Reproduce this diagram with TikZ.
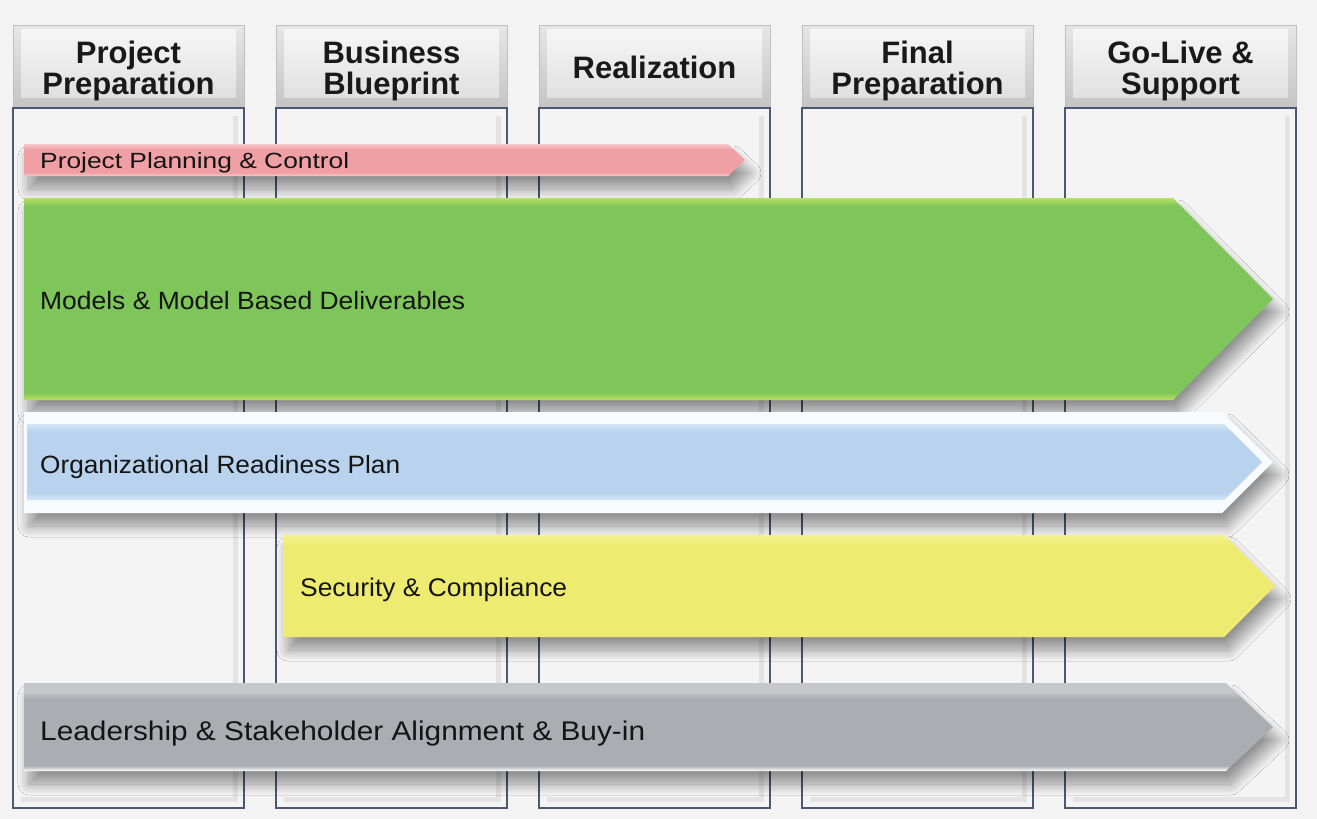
\documentclass[tikz,border=0pt]{standalone}
\usepackage{fontspec}
\setmainfont{Liberation Sans}
\usepackage{graphicx}
\usetikzlibrary{shadows.blur}
\definecolor{bgc}{HTML}{F3F3F3}
\definecolor{bodyc}{HTML}{F4F4F4}
\definecolor{colb}{HTML}{4A5870}
\definecolor{hTop}{HTML}{F6F6F6}
\definecolor{hBot}{HTML}{E0E0E0}
\definecolor{hOutTop}{HTML}{E6E6E6}
\definecolor{hOutBot}{HTML}{C4C4C4}
\definecolor{pE}{HTML}{F7C8CA}
\definecolor{pM}{HTML}{F0A0A4}
\definecolor{gE}{HTML}{B9DF60}
\definecolor{gM}{HTML}{7EC65A}
\definecolor{bW}{HTML}{F8FBFD}
\definecolor{bE}{HTML}{D4E6F6}
\definecolor{bM}{HTML}{B9D3EE}
\definecolor{yE}{HTML}{F4F290}
\definecolor{yM}{HTML}{EEEC70}
\definecolor{grM}{HTML}{ABADB2}
\definecolor{grT}{HTML}{C6C7CA}
\pgfdeclareverticalshading{pinksh}{100bp}{color(0bp)=(pE); color(25bp)=(pE); color(31bp)=(pM); color(66bp)=(pM); color(75bp)=(pE); color(100bp)=(pE)}
\pgfdeclareverticalshading{greensh}{100bp}{color(0bp)=(gE); color(25bp)=(gE); color(27bp)=(gM); color(73bp)=(gM); color(75bp)=(gE); color(100bp)=(gE)}
\pgfdeclareverticalshading{bluesh}{100bp}{color(0bp)=(bE); color(25bp)=(bE); color(30bp)=(bM); color(70bp)=(bM); color(75bp)=(bE); color(100bp)=(bE)}
\pgfdeclareverticalshading{yellowsh}{100bp}{color(0bp)=(yM); color(25bp)=(yM); color(70bp)=(yM); color(75bp)=(yE); color(100bp)=(yE)}
\pgfdeclareverticalshading{graysh}{100bp}{color(0bp)=(white); color(25bp)=(white); color(28bp)=(grM); color(66bp)=(grM); color(70bp)=(grT); color(75bp)=(grT); color(100bp)=(grT)}
\newcommand\fw[2]{\resizebox{#1pt}{\height}{#2}}
\tikzset{
  hdr/.style={align=center, inner sep=0pt, font=\fontsize{31}{31}\selectfont\bfseries, text=black!90},
  lbl/.style={anchor=base west, inner sep=0pt, text=black!92},
  shd/.style={blur shadow={shadow xshift=5pt, shadow yshift=-13pt, shadow blur radius=11pt, shadow blur steps=14, shadow opacity=40}}
}
\begin{document}
\begin{tikzpicture}[x=1pt,y=-1pt]
\useasboundingbox (0,0) rectangle (1317,819);
\fill[bgc] (0,0) rectangle (1317,819);
% columns
\foreach \x in {13,276,539,802,1065}{
  \fill[bodyc] (\x,108) rectangle (\x+231,808);
  \draw[black!11, line width=5pt] (\x+222,116) -- (\x+222,799) -- (\x+8,799);
  \draw[colb, line width=2pt] (\x,108) -- (\x,808) -- (\x+231,808) -- (\x+231,108);
  \shade[top color=hOutTop, bottom color=hOutBot] (\x,25) rectangle (\x+231,108);
  \shade[top color=hTop, bottom color=hBot] (\x+8,29) rectangle (\x+223,97);
  \draw[black!25, line width=0.8pt] (\x,108) -- (\x,25) -- (\x+231,25) -- (\x+231,108);
  \draw[colb, line width=2pt] (\x-1,108) -- (\x+232,108);
}
\node[hdr] (h1) at (128.5,70.5) {Project\\Preparation};
\node[hdr] (h2) at (391.5,70.5) {Business\\Blueprint};
\node[hdr, anchor=base] (h3) at (654.5,78) {Realization};
\node[hdr] (h4) at (917.5,70.5) {Final\\Preparation};
\node[hdr] (h5) at (1180.5,70.5) {Go-Live \&\\Support};
% arrows
\shade[shd, shading=pinksh] (24,144) -- (728,144) -- (745,160) -- (728,176) -- (24,176) -- cycle;
\node[lbl, font=\fontsize{22}{22}\selectfont] (t1) at (40,168) {\fw{309}{Project Planning \& Control}};
\shade[shd, shading=greensh] (24,198) -- (1173,198) -- (1273,299) -- (1173,400) -- (24,400) -- cycle;
\node[lbl, font=\fontsize{25}{25}\selectfont] (t2) at (40,309) {\fw{425}{Models \& Model Based Deliverables}};
\fill[shd, bW] (24,412) -- (1222,412) -- (1273,462) -- (1222,513) -- (24,513) -- cycle;
\shade[shading=bluesh] (27,424) -- (1224,424) -- (1262,462) -- (1224,500) -- (27,500) -- cycle;
\node[lbl, font=\fontsize{25}{25}\selectfont] (t3) at (40,473) {\fw{360}{Organizational Readiness Plan}};
\shade[shd, shading=yellowsh] (283,535) -- (1224,535) -- (1275,586) -- (1224,637) -- (283,637) -- cycle;
\node[lbl, font=\fontsize{25.5}{25.5}\selectfont] (t4) at (300,596) {\fw{267}{Security \& Compliance}};
\shade[shd, shading=graysh] (24,683) -- (1226,683) -- (1273,727) -- (1226,771) -- (24,771) -- cycle;
\node[lbl, font=\fontsize{27}{27}\selectfont] (t5) at (40,740) {\fw{605}{Leadership \& Stakeholder Alignment \& Buy-in}};
\end{tikzpicture}
\end{document}
